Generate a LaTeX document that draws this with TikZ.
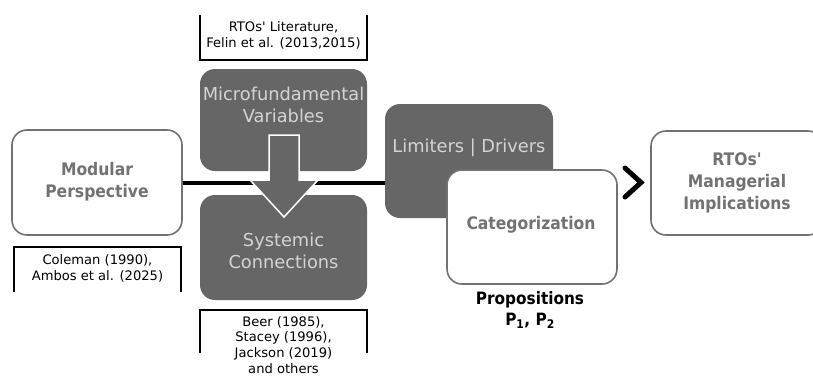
\documentclass[tikz,border=0pt]{standalone}
\usepackage{fontspec}
\setmainfont{DejaVu Sans}
\newfontfamily\narrowfont{DejaVu Sans Condensed}
\usetikzlibrary{positioning}

\definecolor{boxgray}{HTML}{666666}
\definecolor{rimgray}{HTML}{727272}
\definecolor{palegray}{HTML}{D4D4D4}

\tikzstyle{dark box}=[rounded corners=15pt, fill=boxgray, inner sep=0pt]
\tikzstyle{light box}=[rounded corners=15pt, draw=rimgray, line width=1.6pt, fill=white, inner sep=0pt]
\tikzstyle{dark label}=[text=palegray, font=\fontsize{17.8}{22}\selectfont, align=center]
\tikzstyle{light label}=[text=rimgray, font=\narrowfont\bfseries\fontsize{17.3}{22}\selectfont, align=center]
\tikzstyle{ref}=[font=\fontsize{13.1}{15.8}\selectfont, align=center]
\tikzstyle{bracket}=[draw, line width=2.4pt, -]
\tikzstyle{link}=[draw, line width=4pt, -]

\begin{document}
\begin{tikzpicture}[x=1pt, y=-1pt]
		\useasboundingbox (0,0) rectangle (813,376);
		\fill[white] (0,0) rectangle (813,376);
		% line between the two ends
		\node[light box, minimum width=170pt, minimum height=105pt] (modular) at (97,182.5) {};
		\node[light label] (modtext) at (97,181.5) {Modular\\Perspective};
		\node[dark box, minimum width=168pt, minimum height=114pt] (limits) at (469,161) {};
		\path[link] (modular.east) -- (limits.west |- modular.east);
		% middle column
		\node[dark box, minimum width=167pt, minimum height=102pt] (micro) at (283.5,120) {};
		\node[dark box, minimum width=167pt, minimum height=105pt] (systemic) at (283.5,247.5) {};
		\node[dark label] (microtext) at (283.5,105) {Microfundamental\\Variables};
		\node[dark label] (systext) at (283.5,251) {Systemic\\Connections};
		\path[draw=white, line width=1.5pt, fill=boxgray] (269,135) -- (299,135) -- (299,180) -- (318,180)
			-- (284,217) -- (250,180) -- (269,180) -- cycle;
		% right part
		\node[dark label] (limtext) at (469,148) {Limiters | Drivers};
		\node[light box, minimum width=170pt, minimum height=114pt] (categ) at (532,227) {};
		\node[light label] (cattext) at (531,225) {Categorization};
		\node[light box, minimum width=172pt, minimum height=104pt] (implic) at (737,183) {};
		\node[light label] (imptext) at (737,183) {RTOs\textquotesingle\\Managerial\\Implications};
		\path[draw, line width=5pt, line cap=round] (625,168) -- (641,182.5) -- (625,197);
		\node[font=\narrowfont\bfseries\fontsize{17}{21}\selectfont, align=center] (props) at (530,310)
			{Propositions\\P\textsubscript{1}, P\textsubscript{2}};
		% references
		\node[ref] (felin) at (283.5,35) {RTOs\textquotesingle\ Literature,\\Felin et al. (2013,2015)};
		\node[ref] (coleman) at (97.5,268) {Coleman (1990),\\Ambos et al. (2025)};
		\node[ref] (beer) at (283.5,345) {Beer (1985),\\Stacey (1996),\\Jackson (2019)\\and others};
		\path[bracket] (200,15) -- (200,60) -- (367,60) -- (367,15);
		\path[bracket] (14,292) -- (14,247) -- (181,247) -- (181,292);
		\path[bracket] (200,353) -- (200,310) -- (367,310) -- (367,353);
	\end{tikzpicture}
\end{document}
